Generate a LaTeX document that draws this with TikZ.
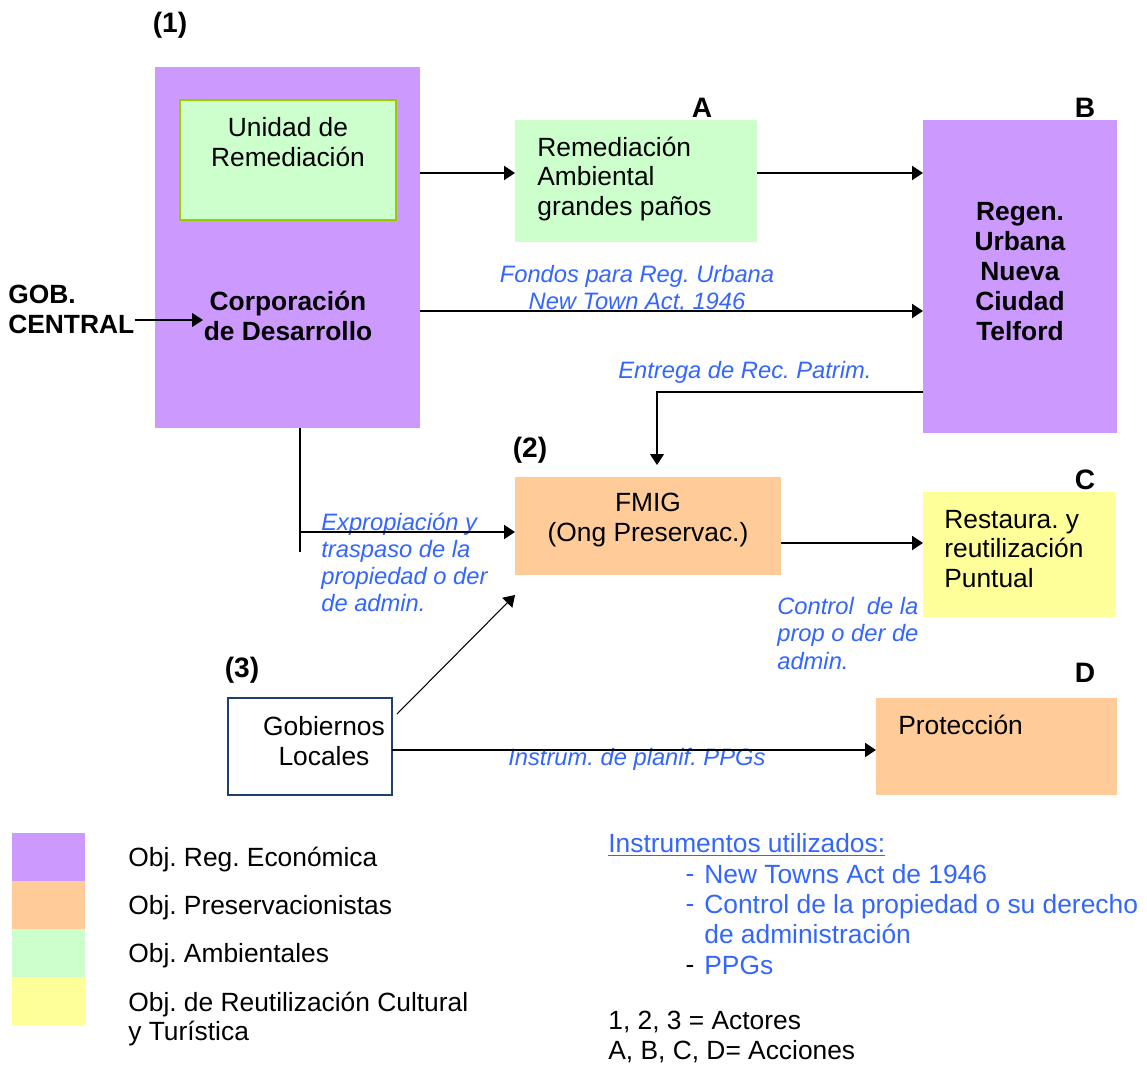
\documentclass[tikz,border=0pt]{standalone}
\usepackage{fontspec}
\setmainfont{Liberation Sans}
\usetikzlibrary{arrows.meta,calc}
\definecolor{cEco}{HTML}{CC99FF}
\definecolor{cPres}{HTML}{FFCC99}
\definecolor{cAmb}{HTML}{CCFFCC}
\definecolor{cTur}{HTML}{FFFF99}
\definecolor{cLime}{HTML}{99CC00}
\definecolor{cNavy}{HTML}{1F3F6E}
\definecolor{cNote}{HTML}{3366FF}
\frenchspacing

\begin{document}
\begin{tikzpicture}[x=0.02cm, y=-0.02cm,
  font=\fontsize{15}{17}\selectfont,
  >={Triangle[length=2.2mm, width=2.8mm]},
  bx/.style={inner sep=0pt, outer sep=0pt},
  eco/.style={bx, fill=cEco},
  pres/.style={bx, fill=cPres},
  amb/.style={bx, fill=cAmb},
  tur/.style={bx, fill=cTur},
  txt/.style={inner sep=0pt, align=center},
  txl/.style={txt, align=left, anchor=west},
  txb/.style={txt, font=\fontsize{15}{17}\selectfont\bfseries},
  lbl/.style={txt, font=\fontsize{16}{18}\selectfont\bfseries},
  note/.style={txl, text=cNote, font=\fontsize{13.5}{15.5}\selectfont\itshape},
  fl/.style={->, line width=1.1pt},
  fn/.style={->, line width=0.6pt},
  ln/.style={line width=0.7pt}]
\useasboundingbox (0,0) rectangle (1147,1065);

% ---- rows for the connectors ----
\coordinate (row1) at (0,173);
\coordinate (row2) at (0,311);
\coordinate (row3) at (0,392);
\coordinate (row5) at (0,543);
\coordinate (row6) at (0,750);
\coordinate (gobin) at (203,320);
\coordinate (exp) at (300,532);
\coordinate (expend) at (300,552);
\coordinate (entin) at (657,465);
\coordinate (diagfrom) at (397,714);

% ================= actor (1) =================
\node[eco, minimum width=5.3cm, minimum height=7.22cm] (corp) at (287.5,247.5) {};
\node[amb, draw=cLime, line width=0.8pt, minimum width=4.32cm, minimum height=2.4cm] (unidad) at (288,160) {};
\node[txt] (unidadtxt) at (288,142) {Unidad de\\Remediación};
\node[txb] (corptxt) at (288,316) {Corporación\\de Desarrollo};
\node[txb, align=left, anchor=west] (gobc) at (8,309.5) {GOB.\\CENTRAL};
\node[lbl] (lbl1) at (170,25) {(1)};

% ================= actions A, B =================
\node[amb, minimum width=4.84cm, minimum height=2.44cm] (remed) at (636,181) {};
\node[txl] (remedtxt) at (537,179) {Remediación\\Ambiental\\grandes paños};
\node[lbl] (lblA) at (702,108) {A};
\node[eco, minimum width=3.88cm, minimum height=6.26cm] (regen) at (1020,276.5) {};
\node[txb] (regentxt) at (1020,271.5) {Regen.\\Urbana\\Nueva\\Ciudad\\Telford};
\node[lbl] (lblB) at (1085,108) {B};

% ================= actor (2), action C =================
\node[pres, minimum width=5.32cm, minimum height=1.96cm] (fmig) at (648,526) {};
\node[txt] (fmigtxt) at (648,520) {FMIG\\(Ong Preservac.)};
\node[lbl] (lbl2) at (530,450) {(2)};
\node[tur, minimum width=3.84cm, minimum height=2.5cm] (restau) at (1019,554.5) {};
\node[txl] (restautxt) at (944,549) {Restaura. y\\reutilización\\Puntual};
\node[lbl] (lblC) at (1085,480) {C};

% ================= actor (3), action D =================
\node[bx, draw=cNavy, line width=0.8pt, fill=white, minimum width=3.28cm, minimum height=1.94cm] (gob) at (310,746.5) {};
\node[txt] (gobtxt) at (324,741) {Gobiernos\\Locales};
\node[lbl] (lbl3) at (242,670) {(3)};
\node[pres, minimum width=4.82cm, minimum height=1.94cm] (prot) at (996.5,746.5) {};
\node[txl] (prottxt) at (898,725) {Protección};
\node[lbl] (lblD) at (1085,673) {D};

% ---- connector texts ----
\node[note, align=center, anchor=center] (fondos) at (637,289) {Fondos para Reg. Urbana\\New Town Act, 1946};
\node[note] (entrega) at (618,372) {Entrega de Rec. Patrim.};
\node[note] (expro) at (321,562.5) {Expropiación y\\traspaso de la\\propiedad o der\\de admin.};
\node[note] (control) at (777,633.5) {Control\ \ de la\\prop o der de\\admin.};
\node[note] (instrum) at (508,759) {Instrum. de planif. PPGs};

% ---- connectors ----
\draw[fn] (gobc.east |- gobin) -- (gobin);
\draw[fl] (corp.east |- row1) -- (remed.west |- row1);
\draw[fl] (remed.east |- row1) -- (regen.west |- row1);
\draw[fl] (corp.east |- row2) -- (regen.west |- row2);
\draw[fn] (regen.west |- row3) -| (entin);
\draw[ln] (corp.south -| exp) -- (expend);
\draw[fl] (exp) -- (fmig.west |- exp);
\draw[fl] (fmig.east |- row5) -- (restau.west |- row5);
\draw[fn] (diagfrom) -- ($(fmig.south west)+(0,20)$);
\draw[fl] (gob.east |- row6) -- (prot.west |- row6);

% ================= legend =================
\node[eco, minimum width=1.46cm, minimum height=0.96cm] (keyeco) at (48.5,857) {};
\node[pres, minimum width=1.46cm, minimum height=0.96cm] (keypres) at (48.5,905) {};
\node[amb, minimum width=1.46cm, minimum height=0.96cm] (keyamb) at (48.5,953) {};
\node[tur, minimum width=1.46cm, minimum height=0.96cm] (keytur) at (48.5,1001) {};
\node[txl] (keyecotxt) at (128,860) {Obj. Reg. Económica};
\node[txl] (keyprestxt) at (128,908) {Obj. Preservacionistas};
\node[txl] (keyambtxt) at (128,956) {Obj. Ambientales};
\node[txl] (keyturtxt) at (128,1019) {Obj. de Reutilización Cultural\\y Turística};

% ---- instruments ----
\node[txl, text=cNote] (instr) at (608,845) {\underline{Instrumentos utilizados:}};
\node[txt, text=cNote] (dash1) at (690,876) {\vphantom{Nj}-};
\node[txt, text=cNote] (dash2) at (690,906) {\vphantom{Nj}-};
\node[txt] (dash3) at (690,967) {\vphantom{Nj}-};
\node[txl, text=cNote] (instr1) at (704,874) {New Towns Act de 1946};
\node[txl, text=cNote] (instr2) at (704,919.5) {Control de la propiedad o su derecho\\de administración};
\node[txl, text=cNote] (instr3) at (704,965) {PPGs};
\node[txl] (keys) at (608,1037) {1, 2, 3 = Actores\\A, B, C, D= Acciones};
\end{tikzpicture}
\end{document}
